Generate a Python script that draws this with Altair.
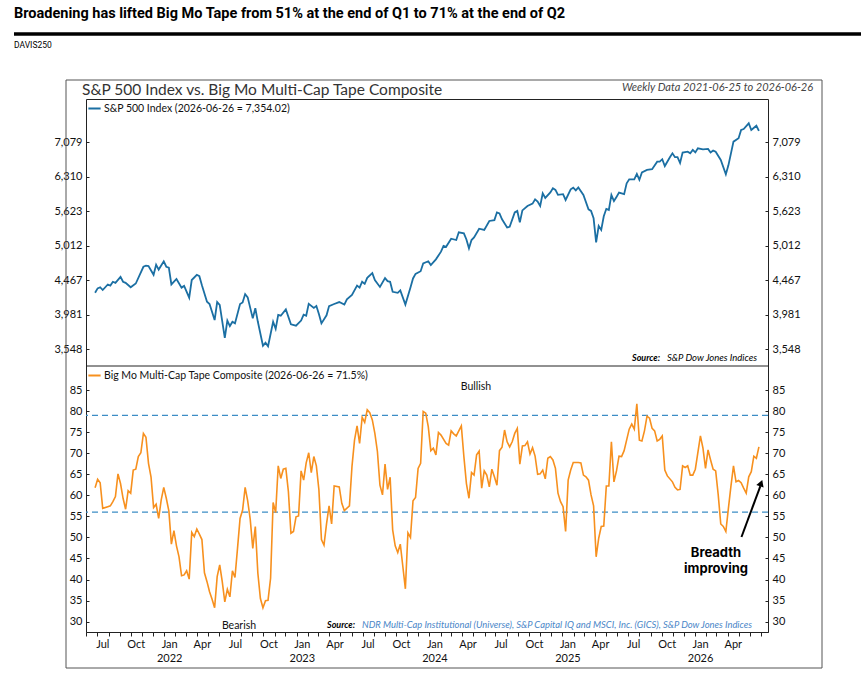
import altair as alt
import pandas as pd

# ---------------- data ----------------
START_DATE = "2021-06-25"
END_LABEL = "2026-06-26"

sp_weeks = [0, 1, 2, 3, 5, 6, 7, 8, 10, 11, 12, 14, 16, 19, 20, 21, 23, 24, 25, 27,
            28, 29, 30, 32, 34, 35, 37, 38, 40, 41, 42, 44, 45, 47, 48, 49, 51, 52, 53, 54,
            55, 57, 58, 59, 60, 62, 63, 64, 66, 67, 68, 70, 71, 72, 73, 75, 77, 79, 81, 82,
            83, 84, 86, 87, 88, 89, 91, 92, 94, 96, 98, 99, 101, 103, 104, 105, 106, 107, 109, 110,
            112, 114, 115, 116, 117, 119, 120, 122, 124, 125, 126, 128,
            129, 131, 132, 134, 136, 137, 138, 140, 142, 143,
            145, 146, 147, 148, 149, 151, 153, 155, 157, 158,
            159, 160, 162, 163, 165, 166, 167, 168, 170, 172,
            173, 174, 175, 176, 177, 179, 180, 181, 182, 184,
            185, 187, 188, 189, 190, 192, 194, 195, 196, 197,
            198, 199, 200, 201, 202, 203, 204, 205, 206, 208,
            209, 210, 212, 213, 214, 215, 217, 219, 221, 222,
            223, 224, 226, 227, 228, 229, 230, 231, 233, 234,
            235, 236, 237, 239, 241, 242, 243, 244, 246, 248,
            249, 251, 253, 254, 255, 257, 258, 260, 261]
sp_values = [4285, 4349, 4365, 4325, 4406, 4390, 4446, 4430, 4519, 4446,
             4430, 4365, 4420, 4674, 4690, 4685, 4550, 4706, 4630, 4760,
             4674, 4660, 4406, 4487, 4360, 4385, 4216, 4472, 4550, 4530,
             4395, 4159, 4128, 3913, 4155, 4115, 3688, 3906, 3835, 3890,
             3870, 4128, 4150, 4267, 4220, 3935, 4070, 3890, 3591, 3627,
             3585, 3890, 3800, 3981, 3970, 4055, 3857, 3840, 3906, 3985,
             3970, 4130, 4075, 4100, 3993, 3870, 3975, 4100, 4128, 4155,
             4120, 4194, 4255, 4390, 4360, 4446, 4415, 4505, 4575, 4470,
             4370, 4500, 4455, 4446, 4300, 4285, 4320, 4120, 4360, 4495,
             4565, 4605,
             4727, 4760, 4700, 4791, 4915, 5012, 4995, 5132, 5110, 5243,
             5225, 5120, 4970, 5110, 5155, 5306, 5285, 5445, 5460, 5604,
             5585, 5475, 5330, 5340, 5604, 5630, 5420, 5640, 5724, 5770,
             5853, 5810, 5724, 5971, 5880, 5990, 6071, 6040, 5940, 5955,
             5840, 6050, 6085, 6030, 6090, 5940, 5660, 5630, 5494, 5071,
             5354, 5285, 5530, 5670, 5650, 5940, 5820, 5900, 5985, 5955,
             6174, 6257, 6257, 6369, 6245, 6400, 6455, 6470, 6636, 6636,
             6690, 6540, 6735, 6823, 6735, 6735, 6605, 6840, 6861, 6823,
             6900, 6845, 6938, 6915, 6925, 6840, 6885, 6860, 6673, 6363,
             6555, 7094, 7174, 7376, 7400, 7542, 7376, 7480, 7354.02]

bm_weeks = [0, 1, 2, 3, 5, 6, 7, 8, 9, 10, 11, 12, 13, 14, 15, 16, 17, 18, 19, 20,
            21, 22, 23, 24, 25, 26, 27, 28, 29, 30, 31, 32, 33, 34, 35, 36, 37, 38, 39, 40,
            41, 42, 43, 44, 45, 46, 47, 48, 49, 50, 51, 52, 53, 54, 55, 56, 57, 58, 59, 60,
            61, 62, 63, 64, 65, 66, 67, 68, 69, 70, 71, 72, 73, 74, 75, 76, 77, 78, 79, 80,
            81, 82, 83, 84, 85, 86, 87, 88, 89, 90, 91, 92, 93, 94, 96, 97, 98, 100, 101, 102,
            103, 104, 105, 106, 107, 108, 109, 110, 111, 112, 113, 114, 115, 116, 117, 118, 119, 120, 121, 122,
            123, 124, 125, 126, 127, 128, 129,
            130, 131, 132, 133, 134, 135, 136, 138, 139, 140, 141, 142, 144, 145, 146, 147, 148, 149, 150, 151,
            152, 153, 154, 155, 156, 157, 158, 159, 160, 161, 162, 163, 164, 165, 166, 167, 168, 169, 170, 171,
            172, 173, 174, 175, 176, 177, 178, 179, 180, 181, 182, 183, 184, 185, 186, 187, 188, 190, 191, 192,
            193, 194, 195, 196, 197, 198, 199, 200, 201, 202, 203, 204, 205, 206, 207, 208, 210, 211, 212, 213,
            214, 215, 216, 217, 218, 219, 220, 221, 222, 223, 224, 225, 227, 228, 229, 230, 231, 232, 233, 234,
            235, 236, 238, 239, 240, 241, 242, 243, 244, 245, 246, 247, 248, 249, 250, 251, 252, 253, 254, 255,
            256, 257, 258, 259, 260, 261]
bm_values = [61.8, 63.8, 63.0, 56.9, 57.3, 57.5, 58.5, 59.7, 65.1, 62.8, 59.3, 56.7, 61.1, 60.5, 66.0, 66.2, 69.2, 70.1, 74.7, 73.8,
             67.6, 64.3, 57.1, 57.9, 54.5, 58.9, 61.9, 59.3, 56.3, 48.4, 51.6, 48.0, 45.4, 40.9, 41.1, 42.1, 40.1, 51.2, 50.2, 52.0,
             50.8, 49.5, 41.6, 39.5, 37.1, 35.3, 33.3, 40.7, 43.5, 39.5, 34.7, 37.7, 35.9, 42.1, 40.5, 47.4, 54.5, 56.5, 61.9, 58.7,
             54.3, 47.4, 52.6, 41.5, 35.5, 33.3, 35.0, 35.1, 40.3, 58.3, 55.9, 67.0, 64.0, 66.2, 66.4, 60.9, 51.0, 51.4, 54.9, 55.1,
             65.8, 63.6, 67.7, 70.1, 65.4, 69.2, 67.0, 61.3, 49.5, 48.2, 53.2, 57.5, 53.2, 62.2, 62.0, 58.1, 56.4, 57.5, 66.8, 73.1,
             76.5, 72.3, 78.5, 77.3, 80.3, 79.6, 77.9, 74.7, 70.4, 62.4, 60.1, 67.4, 61.4, 64.3, 51.8, 48.0, 46.4, 48.4, 43.1, 37.8,
             51.1, 50.0, 58.7, 59.5, 66.4, 67.6, 79.9,
             79.5, 76.3, 70.6, 71.2, 69.6, 74.9, 74.3, 72.3, 71.9, 75.3, 74.6, 74.1, 76.5, 69.2, 62.8, 59.3, 65.4, 64.8, 69.6, 70.5,
             61.7, 65.8, 64.8, 62.0, 66.2, 64.4, 62.4, 70.6, 71.4, 75.5, 72.7, 71.5, 72.7, 74.7, 75.9, 67.4, 71.7, 71.8, 72.7, 69.8,
             71.3, 69.3, 65.0, 65.1, 66.0, 63.9, 68.8, 69.2, 68.4, 66.4, 60.5, 58.5, 57.3, 51.4, 63.6, 66.0, 67.8, 67.8, 67.7, 64.8,
             64.4, 63.6, 60.1, 57.5, 45.4, 49.8, 52.6, 52.7, 62.2, 62.2, 72.7, 63.2, 65.8, 69.3, 69.2, 70.6, 75.7, 76.9, 75.7, 81.7,
             73.1, 72.9, 75.3, 78.8, 78.3, 75.9, 75.3, 72.9, 73.3, 74.1, 66.0, 64.6, 63.2, 61.9, 61.3, 61.4, 67.0, 66.6, 67.0, 64.8,
             64.8, 66.2, 74.1, 71.2, 66.4, 70.8, 68.4, 66.2, 65.8, 60.1, 53.2, 52.6, 51.4, 56.9, 62.2, 67.0, 63.2, 63.5, 63.0, 61.7,
             60.5, 64.4, 65.6, 69.3, 68.8, 71.5]

sp_ticks = [3548.13, 3981.07, 4466.84, 5011.87, 5623.41, 6309.57, 7079.46]
bm_ticks = [30, 35, 40, 45, 50, 55, 60, 65, 70, 75, 80, 85]
threshold_levels = [79, 56]
label_years = [2021, 2022, 2023, 2024, 2025, 2026]
label_months = [1, 4, 7, 10]

arrow_tail = ("2026-05-09", 50.1)
arrow_end = ("2026-06-30", 62.2)
arrow_head = ("2026-07-02", 62.9)

# ---------------- styling ----------------
W, H = 682, 533
TOP_H = 267
SP_BLUE = "#1b6fa3"
BM_ORANGE = "#f7901e"
DASH_BLUE = "#3c8dc5"
FONT = "Lato"
HEAD_FONT = "Roboto"

start = pd.Timestamp(START_DATE)
sp_label = f"S&P 500 Index ({END_LABEL} = {sp_values[-1]:,.2f})"
bm_label = f"Big Mo Multi-Cap Tape Composite ({END_LABEL} = {bm_values[-1]:.1f}%)"
sp_df = pd.DataFrame({"date": [start + pd.Timedelta(days=7 * w) for w in sp_weeks],
                      "value": sp_values, "series": sp_label})
bm_df = pd.DataFrame({"date": [start + pd.Timedelta(days=7 * w) for w in bm_weeks],
                      "value": bm_values, "series": bm_label})

x_scale = alt.Scale(domain=[alt.DateTime(year=2021, month=5, date=31),
                            alt.DateTime(year=2026, month=7, date=21)])
sp_scale = alt.Scale(type="log", domain=[3357, 8178], range=[TOP_H, 0], nice=False, zero=False)
bm_scale = alt.Scale(type="linear", domain=[27.55, 90.7], range=[H, TOP_H], nice=False, zero=False)


def left_axis(values, fmt):
    # inward ticks: a right-oriented axis pulled to the left edge
    return alt.Axis(orient="right", offset=-W, values=values, format=fmt, tickSize=3,
                    labelAlign="right", labelPadding=-7, domain=False, grid=False, title=None,
                    labelFont=FONT, labelFontSize=11, labelColor="#111", tickColor="#222",
                    labelOverlap=False)


def right_axis(values, fmt):
    return alt.Axis(orient="left", offset=-W, values=values, format=fmt, tickSize=3,
                    labelAlign="left", labelPadding=-7, domain=False, grid=False, title=None,
                    labelFont=FONT, labelFontSize=11, labelColor="#111", tickColor="#222",
                    labelOverlap=False)


x_noaxis = alt.X("date:T", scale=x_scale, axis=None)

tick_axis = alt.Axis(orient="bottom", tickCount=alt.TimeIntervalStep(interval="month", step=1),
                     labels=False, tickSize=4, tickColor="#222", domain=True, domainColor="#222",
                     grid=False, title=None)
label_values = [alt.DateTime(year=y, month=m, date=15) for y in label_years for m in label_months
                if pd.Timestamp(year=y, month=m, day=1) >= pd.Timestamp("2021-07-01")
                and pd.Timestamp(year=y, month=m, day=1) <= pd.Timestamp("2026-04-01")]
label_axis = alt.Axis(orient="bottom", values=label_values, ticks=False, domain=False, grid=False,
                      title=None, labelPadding=6, labelFont=FONT, labelFontSize=11, labelColor="#111",
                      labelLineHeight=14, labelOverlap=False, labelFlush=False,
                      labelExpr="month(datum.value) == 0 ? [timeFormat(datum.value, '%b'), timeFormat(datum.value, '%Y')] : timeFormat(datum.value, '%b')")

legend_common = dict(title=None, orient="none", symbolType="stroke", symbolStrokeWidth=2,
                     symbolSize=150, labelFont=FONT, labelFontSize=10.5, labelColor="#111",
                     labelOffset=2, padding=0, labelLimit=600)

# ---------------- layers ----------------
sp_line = alt.Chart(sp_df).mark_line(strokeWidth=1.8).encode(
    x=alt.X("date:T", scale=x_scale, axis=tick_axis),
    y=alt.Y("value:Q", scale=sp_scale, axis=left_axis(sp_ticks, ",.0f")),
    color=alt.Color("series:N", scale=alt.Scale(domain=[sp_label], range=[SP_BLUE]),
                    legend=alt.Legend(legendX=1, legendY=2, **legend_common)),
)
sp_ghost = alt.Chart(sp_df).mark_line(strokeOpacity=0).encode(
    x=alt.X("date:T", scale=x_scale, axis=label_axis),
    y=alt.Y("value:Q", scale=sp_scale, axis=right_axis(sp_ticks, ",.0f")),
)

thresholds = alt.Chart(pd.DataFrame({"level": threshold_levels})).mark_rule(
    color=DASH_BLUE, strokeDash=[6, 4], strokeWidth=1.3).encode(
    y=alt.Y("level:Q", scale=bm_scale, axis=None))

bm_line = alt.Chart(bm_df).mark_line(strokeWidth=1.6).encode(
    x=x_noaxis,
    y=alt.Y("value:Q", scale=bm_scale, axis=left_axis(bm_ticks, "d")),
    color=alt.Color("series:N", scale=alt.Scale(domain=[bm_label], range=[BM_ORANGE]),
                    legend=alt.Legend(legendX=1, legendY=TOP_H + 2, **legend_common)),
)
bm_ghost = alt.Chart(bm_df).mark_line(strokeOpacity=0).encode(
    x=x_noaxis,
    y=alt.Y("value:Q", scale=bm_scale, axis=right_axis(bm_ticks, "d")),
)

arrow_df = pd.DataFrame({"date": [pd.Timestamp(arrow_tail[0])], "y": [arrow_tail[1]],
                         "date2": [pd.Timestamp(arrow_end[0])], "y2": [arrow_end[1]]})
arrow_line = alt.Chart(arrow_df).mark_rule(color="black", strokeWidth=2).encode(
    x=x_noaxis, x2="date2:T",
    y=alt.Y("y:Q", scale=bm_scale, axis=None), y2="y2:Q")
arrow_df2 = pd.DataFrame({"date": [pd.Timestamp(arrow_head[0])], "v": [arrow_head[1]]})
arrow_tip = alt.Chart(arrow_df2).mark_point(shape="triangle-up", filled=True, size=60, angle=20,
                                            color="black", opacity=1).encode(
    x=x_noaxis, y=alt.Y("v:Q", scale=bm_scale, axis=None))


def text_layer(txt, x, y, **kw):
    return alt.Chart(pd.DataFrame({"t": [txt]})).mark_text(**kw).encode(
        text="t:N", x=alt.value(x), y=alt.value(y))


sep = alt.Chart(pd.DataFrame({"a": [0]})).mark_rule(color="#222", strokeWidth=1).encode(
    x=alt.value(0), x2=alt.value(W), y=alt.value(TOP_H))
frame = alt.Chart(pd.DataFrame({"a": [0]})).mark_rect(fillOpacity=0, stroke="#555", strokeWidth=1).encode(
    x=alt.value(-20), x2=alt.value(736), y=alt.value(-19), y2=alt.value(569))
head_rule = alt.Chart(pd.DataFrame({"a": [0]})).mark_rule(color="black", strokeWidth=3.5).encode(
    x=alt.value(-72), x2=alt.value(775), y=alt.value(-65))

texts = [
    text_layer("Broadening has lifted Big Mo Tape from 51% at the end of Q1 to 71% at the end of Q2",
               -72, -85, align="left", baseline="middle", font=HEAD_FONT, fontSize=14.5,
               fontWeight="bold", color="black"),
    text_layer("DAVIS250", -72, -54, align="left", baseline="middle", font=HEAD_FONT,
               fontSize=8.5, color="black"),
    text_layer("S&P 500 Index vs. Big Mo Multi-Cap Tape Composite", -4, -9, align="left",
               baseline="middle", font=FONT, fontSize=15.5, color="#333"),
    text_layer("Weekly Data 2021-06-25 to 2026-06-26", 727, -11, align="right",
               baseline="middle", font=FONT, fontSize=11, fontStyle="italic", color="#444"),
    text_layer("Source:", 546, 259, align="left", baseline="middle", font=FONT, fontSize=9,
               fontStyle="italic", fontWeight="bold", color="black"),
    text_layer("S&P Dow Jones Indices", 581, 259, align="left", baseline="middle", font=FONT,
               fontSize=9.5, fontStyle="italic", color="black"),
    text_layer("Source:", 241, 526, align="left", baseline="middle", font=FONT, fontSize=9,
               fontStyle="italic", fontWeight="bold", color="black"),
    text_layer("NDR Multi-Cap Institutional (Universe), S&P Capital IQ and MSCI, Inc. (GICS), S&P Dow Jones Indices",
               276, 526, align="left", baseline="middle", font=FONT, fontSize=9.4,
               fontStyle="italic", color="#4a86c8"),
    text_layer("Bullish", 390, 288, align="center", baseline="middle", font=FONT, fontSize=10.5,
               color="#111"),
    text_layer("Bearish", 153, 527, align="center", baseline="middle", font=FONT, fontSize=10.5,
               color="#111"),
    text_layer("Breadth", 630, 454, align="center", baseline="middle", font="Inter",
               fontSize=13, fontWeight="bold", color="black"),
    text_layer("improving", 630, 470, align="center", baseline="middle", font="Inter",
               fontSize=13, fontWeight="bold", color="black"),
]

chart = alt.layer(
    frame, head_rule, thresholds, sp_line, sp_ghost, bm_line, bm_ghost, sep,
    arrow_line, arrow_tip, *texts
).resolve_scale(
    y="independent", color="independent"
).resolve_axis(
    x="independent"
).properties(
    width=W, height=H,
    autosize=alt.AutoSizeParams(type="none"),
    padding={"left": 86, "top": 99, "right": 93, "bottom": 60},
).configure_view(stroke="#222", strokeWidth=1)

chart.save("out.html", embed_options={"renderer": "svg", "actions": False})
